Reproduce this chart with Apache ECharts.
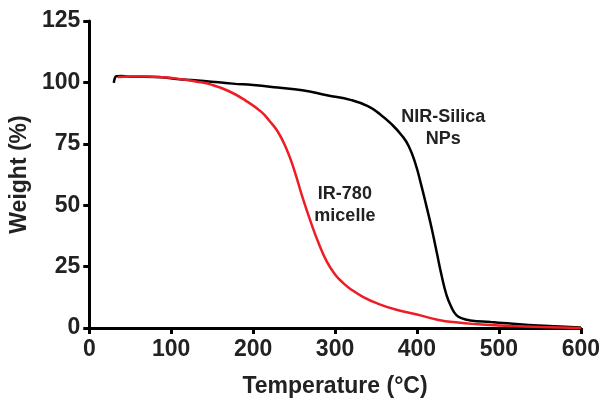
<!DOCTYPE html>
<html>
<head>
<meta charset="utf-8">
<script src="https://cdn.jsdelivr.net/npm/echarts@6/dist/echarts.min.js"></script>
<style>html,body{margin:0;padding:0;background:#fff}#c{width:603px;height:403px}</style>
</head>
<body>
<div id="c"></div>
<script>
// Temperature (°C), Weight (%)
const silicaTemp = [30, 31, 33, 40, 50, 80, 110, 140, 175, 200, 230, 260, 290, 320, 340, 355, 368, 382, 390, 398, 405, 412, 418, 424, 430, 436, 442, 448, 455, 465, 490, 510, 548, 600];
const silicaWeight = [99.8, 101.5, 102.5, 102.6, 102.3, 102.2, 101.3, 100.6, 99.5, 98.9, 97.9, 96.8, 94.8, 92.8, 90.3, 87, 83.3, 78.2, 74, 67, 58.5, 49, 40.5, 31, 21.5, 13.5, 8.5, 5.3, 3.9, 3.1, 2.4, 1.9, 1.0, 0.2];
const micelleTemp = [35, 50, 70, 90, 110, 130, 150, 170, 190, 210, 220, 230, 240, 250, 260, 270, 280, 290, 300, 310, 320, 335, 350, 375, 400, 425, 450, 475, 500, 550, 600];
const micelleWeight = [102.2, 102.4, 102.4, 102.1, 101.4, 100.4, 99.0, 96.5, 92.8, 88, 84.3, 80, 73.5, 64.5, 53.5, 43.5, 34.5, 27, 21.8, 18.3, 15.6, 12.5, 10.2, 7.4, 5.5, 3.4, 2.2, 1.5, 1.0, 0.4, 0];
const xTicks = {min: 0, max: 600, interval: 100};
const yTicks = {min: 0, max: 125, interval: 25};
const silicaLabel = {text: 'NIR-Silica\nNPs', at: [432, 81.5]};
const micelleLabel = {text: 'IR-780\nmicelle', at: [312, 50]};

const zip = (a, b) => a.map((v, i) => [v, b[i]]);
const FONT = '"Liberation Sans", Arial, Helvetica, sans-serif';
const TXT = '#222';
const axisCommon = {
  axisLine: {show: true, onZero: false, lineStyle: {color: '#000', width: 3}},
  axisTick: {show: true, length: 6, lineStyle: {color: '#000', width: 3}},
  splitLine: {show: false},
  axisLabel: {color: TXT, fontSize: 23, fontWeight: 'bold', fontFamily: FONT},
  nameTextStyle: {color: TXT, fontSize: 23, fontWeight: 'bold', fontFamily: FONT},
  nameLocation: 'middle'
};
function annot(l) {
  return {
    symbol: 'circle', symbolSize: 0, silent: true,
    data: [{coord: l.at, value: l.text}],
    label: {show: true, position: 'inside', formatter: l.text, color: TXT, fontSize: 18, fontWeight: 'bold', fontFamily: FONT, lineHeight: 22, align: 'center'}
  };
}
const chart = echarts.init(document.getElementById('c'), null, {renderer: 'canvas'});
chart.setOption({
  animation: false,
  backgroundColor: '#fff',
  grid: {left: 89, right: 20, top: 21, bottom: 71, containLabel: false},
  xAxis: Object.assign({type: 'value', name: 'Temperature (°C)', nameGap: 47}, xTicks, axisCommon,
    {axisLabel: Object.assign({}, axisCommon.axisLabel, {margin: 10})}),
  yAxis: Object.assign({type: 'value', name: 'Weight (%)', nameGap: 46}, yTicks, axisCommon,
    {axisLabel: Object.assign({}, axisCommon.axisLabel, {margin: 9})}),
  series: [
    {type: 'line', name: 'NIR-Silica NPs', data: zip(silicaTemp, silicaWeight), showSymbol: false, smooth: true,
     lineStyle: {color: '#000', width: 2.5}, itemStyle: {color: '#000'}, z: 2, markPoint: annot(silicaLabel)},
    {type: 'line', name: 'IR-780 micelle', data: zip(micelleTemp, micelleWeight), showSymbol: false, smooth: true,
     lineStyle: {color: '#ee1c25', width: 2.5}, itemStyle: {color: '#ee1c25'}, z: 3, markPoint: annot(micelleLabel)}
  ]
});
</script>
</body>
</html>
